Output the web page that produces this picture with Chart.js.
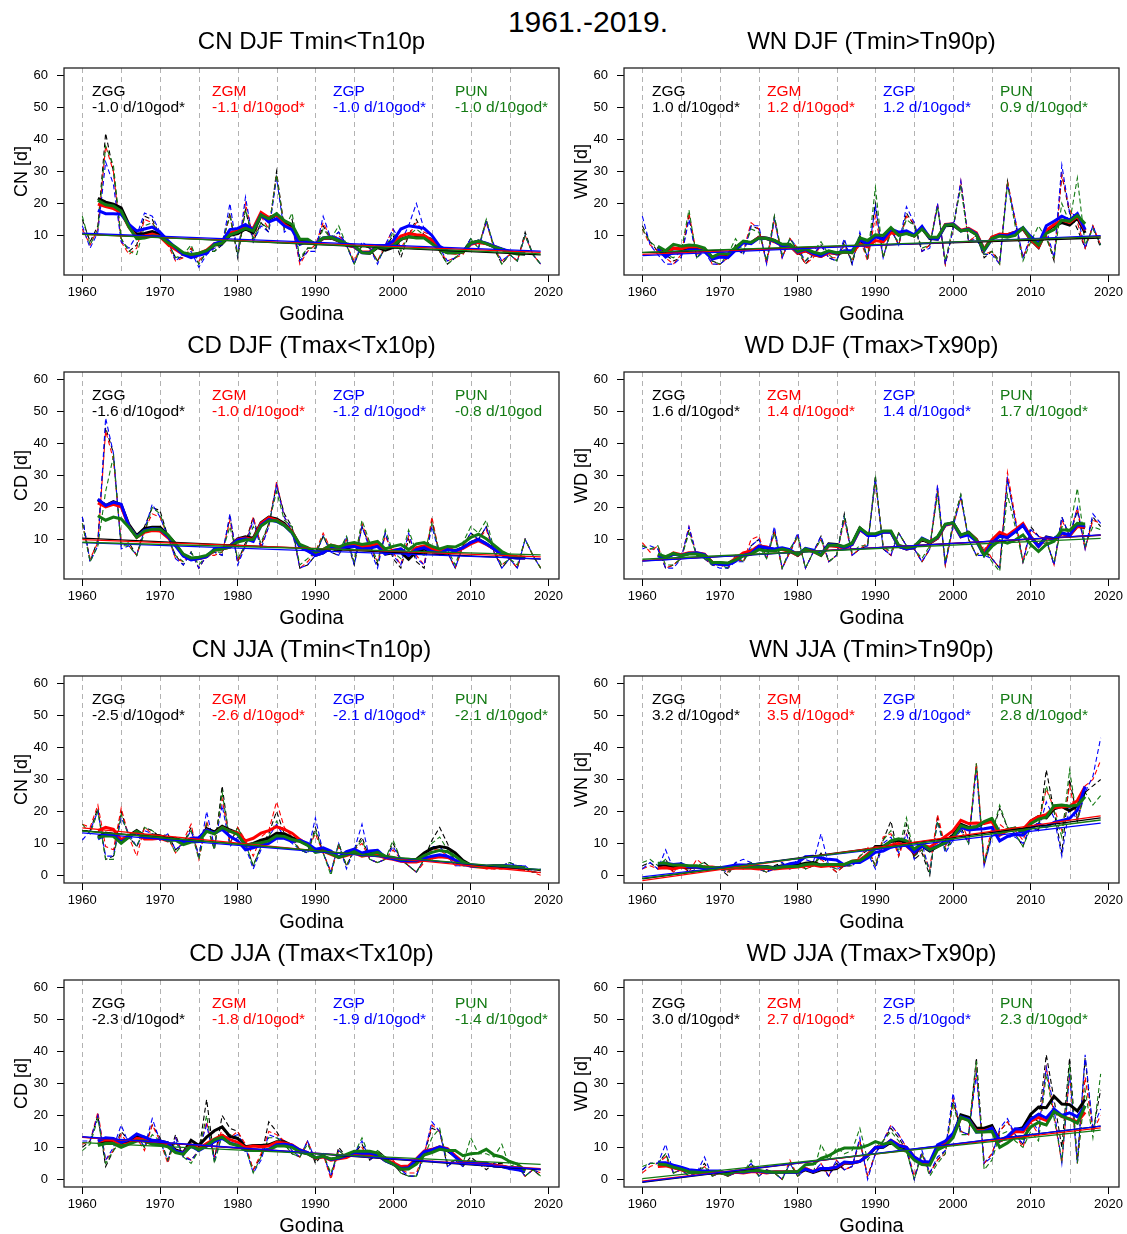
<!DOCTYPE html>
<html>
<head>
<meta charset="utf-8">
<script src="https://cdn.jsdelivr.net/npm/chart.js@4.4.1/dist/chart.umd.min.js"></script>
<style>
  html, body { margin: 0; padding: 0; background: #fff; }
  body { width: 1127px; height: 1234px; position: relative; overflow: hidden; font-family: "Liberation Sans", Arial, sans-serif; }
  #mainTitle { position: absolute; left: 388px; top: 4px; width: 400px; text-align: center; font-size: 30px; line-height: 36px; color: #000; }
  canvas { position: absolute; }
</style>
</head>
<body>
<div id="mainTitle">1961.-2019.</div>
<canvas id="p0" width="563" height="304" style="left:0px;top:26px"></canvas>
<canvas id="p1" width="563" height="304" style="left:560px;top:26px"></canvas>
<canvas id="p2" width="563" height="304" style="left:0px;top:330px"></canvas>
<canvas id="p3" width="563" height="304" style="left:560px;top:330px"></canvas>
<canvas id="p4" width="563" height="304" style="left:0px;top:634px"></canvas>
<canvas id="p5" width="563" height="304" style="left:560px;top:634px"></canvas>
<canvas id="p6" width="563" height="304" style="left:0px;top:938px"></canvas>
<canvas id="p7" width="563" height="304" style="left:560px;top:938px"></canvas>
<script>
// years 1960-2019
const years = [1960, 1961, 1962, 1963, 1964, 1965, 1966, 1967, 1968, 1969,
  1970, 1971, 1972, 1973, 1974, 1975, 1976, 1977, 1978, 1979,
  1980, 1981, 1982, 1983, 1984, 1985, 1986, 1987, 1988, 1989,
  1990, 1991, 1992, 1993, 1994, 1995, 1996, 1997, 1998, 1999,
  2000, 2001, 2002, 2003, 2004, 2005, 2006, 2007, 2008, 2009,
  2010, 2011, 2012, 2013, 2014, 2015, 2016, 2017, 2018, 2019];
const stations = ['ZGG', 'ZGM', 'ZGP', 'PUN'];
const xTicks = [1960, 1970, 1980, 1990, 2000, 2010, 2020];
const gridYears = [1960, 1965, 1970, 1975, 1980, 1985, 1990, 1995, 2000, 2005, 2010, 2015];
const yTicksDjf = [10, 20, 30, 40, 50, 60];
const yTicksJja = [0, 10, 20, 30, 40, 50, 60];

// CN DJF
const cnDjfZGG = [15,8,13,42,30,9,5,7,16,15, 10,8,3,3,6,1,5,5,7,17, 3,18,8,14,11,30,12,15,2,6, 6,13,9,11,7,1,7,6,2,6, 10,3,10,15,10,9,5,1,3,5, 9,6,15,6,1,4,2,11,4,1];
const cnDjfZGM = [12,7,12,38,30,8,4,6,15,14, 10,7,2,3,6,2,5,6,8,16, 4,20,9,16,12,29,12,13,1,5, 7,14,9,10,7,2,7,6,2,7, 12,6,10,14,11,10,5,2,3,4, 8,7,14,6,2,4,2,10,4,1];
const cnDjfZGP = [13,6,11,33,26,8,6,10,17,16, 11,9,2,4,5,0,4,6,7,20, 4,22,8,13,11,28,11,13,2,5, 5,16,9,11,7,1,8,6,1,7, 12,8,13,20,12,10,6,2,3,5, 9,6,14,7,2,4,2,10,4,1];
const cnDjfPUN = [16,7,12,38,32,9,5,4,13,14, 10,8,3,4,7,1,5,5,8,16, 4,18,9,14,12,29,12,17,3,6, 6,12,9,13,7,1,7,6,2,6, 11,5,10,12,10,9,5,1,3,5, 9,6,15,6,1,4,2,10,4,1];
// WN DJF
const wnDjfZGG = [13,8,5,4,2,3,16,3,6,2, 1,3,7,4,13,12,2,16,3,9, 5,1,4,7,3,2,8,1,10,3, 20,3,12,7,17,13,5,7,19,1, 12,26,8,10,3,5,2,27,14,3, 9,7,10,2,29,17,12,6,13,6];
const wnDjfZGM = [12,7,5,3,1,4,17,4,6,1, 1,3,6,5,14,12,1,15,3,9, 6,1,3,7,3,3,7,2,9,2, 16,3,12,7,16,14,5,7,20,1, 12,27,8,10,4,5,1,27,15,3, 9,7,10,3,29,18,14,6,13,7];
const wnDjfZGP = [16,7,4,1,1,3,15,3,5,1, 1,3,6,4,13,13,1,15,3,9, 6,2,4,7,3,2,9,1,11,3, 19,3,12,7,19,14,5,6,20,1, 12,27,8,9,4,4,1,26,15,3, 10,8,12,3,32,17,16,6,13,7];
const wnDjfPUN = [12,8,6,4,3,5,18,3,6,2, 1,4,9,5,12,11,2,16,4,9, 5,2,5,8,4,2,7,2,9,3, 25,3,11,8,15,13,6,7,19,2, 13,25,8,9,4,5,1,26,13,2, 8,13,9,3,20,14,28,7,12,7];
// CD DJF
const cdDjfZGG = [17,3,10,45,37,8,9,5,14,20, 19,11,5,2,6,1,5,6,5,17, 3,9,17,8,15,27,18,14,1,2, 5,11,6,5,10,2,14,8,2,12, 4,1,10,3,1,16,5,6,1,8, 12,10,14,6,1,4,1,10,5,1];
const cdDjfZGM = [15,4,9,44,35,9,8,5,13,18, 17,11,4,3,6,1,5,5,6,16, 3,8,17,8,14,28,17,13,1,3, 6,12,7,6,10,3,15,8,3,11, 6,2,11,5,2,17,5,6,1,8, 11,10,13,6,2,4,1,10,5,1];
const cdDjfZGP = [17,3,8,48,37,7,8,5,13,21, 17,11,4,2,6,1,5,6,5,18, 2,8,16,7,14,27,17,13,1,2, 5,11,6,5,11,2,14,7,1,12, 5,2,12,4,2,14,5,6,1,8, 12,10,14,6,1,4,1,10,5,1];
const cdDjfPUN = [15,3,8,25,36,8,8,5,12,20, 18,11,5,3,6,2,5,6,6,14, 4,8,14,9,15,25,16,14,2,4, 6,11,7,6,11,3,16,9,3,13, 6,4,13,6,5,15,6,7,2,9, 14,12,16,7,2,4,2,10,5,1];
// WD DJF
const wdDjfZGG = [8,7,7,1,2,4,13,5,4,2, 2,1,4,3,8,10,4,13,1,6, 11,1,6,11,3,5,18,5,7,8, 30,7,5,12,8,7,3,7,25,2, 15,24,10,5,7,4,1,29,16,3, 14,11,10,2,17,11,19,7,17,14];
const wdDjfZGM = [9,6,8,1,2,4,14,5,4,2, 2,1,4,3,10,11,4,12,1,6, 11,1,6,10,3,5,16,5,7,9, 28,8,5,12,8,7,3,7,26,2, 14,23,10,5,8,4,1,31,17,3, 13,11,10,2,16,11,20,7,16,15];
const wdDjfZGP = [7,8,7,1,1,4,14,5,4,2, 1,1,3,3,8,10,4,14,1,6, 12,1,6,11,3,5,17,5,7,8, 29,7,5,12,8,7,3,7,27,2, 14,23,10,5,5,4,1,29,16,3, 13,11,10,2,17,11,20,7,18,15];
const wdDjfPUN = [8,7,8,2,2,4,12,5,4,2, 2,1,5,3,7,8,4,12,1,7, 11,1,6,10,3,5,17,6,8,8, 29,8,6,12,8,7,4,8,24,3, 15,24,10,5,7,3,0,24,14,3, 8,8,9,3,14,13,26,8,14,13];
// CN JJA
const cnJjaZGG = [14,14,21,5,6,20,12,9,15,14, 12,13,8,10,15,6,16,8,28,10, 15,10,3,9,13,20,13,11,8,7, 15,7,1,10,3,8,12,5,4,5, 10,5,3,1,5,11,15,10,4,3, 3,3,3,2,3,4,3,2,1,1];
const cnJjaZGM = [16,15,22,9,8,21,12,6,15,13, 11,12,7,11,16,5,17,9,24,10, 15,11,6,12,14,23,15,12,8,8, 13,7,1,9,3,8,10,5,4,5, 8,5,3,1,4,8,8,6,3,3, 3,3,2,2,2,3,3,2,1,0];
const cnJjaZGP = [11,14,20,6,6,18,13,9,14,13, 11,13,8,10,14,6,20,9,22,9, 12,9,2,8,12,16,12,10,8,7, 18,7,1,10,2,8,16,5,4,5, 9,5,3,1,5,9,9,6,3,3, 3,3,3,2,3,4,3,3,1,2];
const cnJjaPUN = [16,13,20,5,5,19,12,9,15,14, 12,12,7,10,14,5,16,8,26,10, 15,10,3,9,12,17,13,11,8,7, 14,7,0,10,3,8,11,5,4,5, 11,5,3,1,5,10,12,8,4,3, 3,3,3,2,3,4,3,2,1,2];
// WN JJA
const wnJjaZGG = [3,4,2,5,1,4,1,2,4,2, 2,0,4,3,4,2,1,3,4,2, 5,2,3,7,3,1,3,3,6,8, 3,11,17,6,16,5,7,0,18,8, 12,15,10,35,3,13,21,15,13,9, 16,14,33,20,7,30,18,26,28,30];
const wnJjaZGM = [2,3,2,3,1,3,1,5,3,2, 2,1,3,2,3,2,1,2,3,2, 3,2,3,5,3,1,3,3,6,9, 3,12,13,6,13,6,8,2,19,9, 14,17,11,35,4,15,16,14,14,11, 17,16,27,21,14,28,17,28,30,36];
const wnJjaZGP = [2,4,2,8,2,3,2,3,3,2, 2,1,4,5,4,2,1,2,4,2, 5,5,4,13,3,2,3,3,5,7, 2,10,12,7,13,5,10,1,17,7, 11,14,10,33,3,12,15,12,12,10, 15,14,23,18,6,22,17,26,31,43];
const wnJjaPUN = [4,5,3,5,2,4,2,3,4,2, 2,1,3,3,4,2,1,3,3,2, 4,2,3,6,3,2,3,3,6,8, 3,11,14,8,18,6,8,1,17,8, 11,14,10,35,4,13,22,15,13,9, 15,16,28,20,12,33,17,26,22,25];
// CD JJA
const cdJjaZGG = [10,12,20,4,9,15,12,14,10,17, 13,6,14,7,6,9,25,6,20,16, 15,10,3,7,18,15,11,8,7,12, 5,8,1,10,7,8,11,6,9,7, 5,2,1,1,8,16,15,4,6,4, 7,5,3,5,5,3,4,1,3,1];
const cdJjaZGM = [11,12,21,6,9,14,11,13,9,17, 12,5,13,8,6,9,18,7,16,13, 15,11,3,8,15,14,12,9,7,12, 6,8,0,9,7,8,10,6,8,7, 6,3,2,2,8,17,15,5,6,5, 6,5,4,5,4,4,4,1,3,2];
const cdJjaZGP = [12,12,20,6,10,17,11,14,10,19, 12,6,13,7,6,9,17,6,14,13, 14,10,2,6,14,13,12,9,7,12, 6,8,1,9,7,8,12,6,8,7, 5,3,1,1,8,18,15,4,6,4, 6,5,4,5,4,3,4,1,3,2];
const cdJjaPUN = [9,11,19,5,9,12,11,13,10,14, 12,6,12,7,5,9,20,5,14,14, 13,10,2,7,13,13,11,8,7,11, 6,8,2,9,7,8,13,7,9,7, 5,2,1,1,7,13,16,5,6,5, 13,8,8,7,11,4,5,1,3,1];
// WD JJA
const wdJjaZGG = [3,5,5,8,2,3,1,2,5,1, 2,1,2,2,5,1,3,2,0,5, 1,3,2,4,1,5,3,4,12,1, 8,12,16,13,9,0,8,2,6,9, 25,15,14,38,5,8,15,18,14,11, 20,18,39,25,10,38,6,38,15,28];
const wdJjaZGM = [2,4,5,7,2,3,1,2,4,1, 2,1,2,2,4,1,3,2,0,6, 1,3,2,5,1,6,3,4,12,1, 8,12,17,14,10,1,8,2,6,8, 25,15,14,34,5,8,15,18,14,10, 18,14,35,20,5,33,5,32,15,20];
const wdJjaZGP = [3,5,5,11,2,3,1,2,7,1, 2,1,2,2,5,1,3,2,0,5, 1,3,2,5,1,6,3,4,13,0, 8,12,17,14,10,0,9,2,7,9, 27,15,14,33,5,7,16,19,14,11, 19,15,35,22,5,33,5,39,16,22];
const wdJjaPUN = [4,5,5,8,2,3,1,2,4,1, 2,1,2,2,6,1,3,2,0,5, 1,4,2,11,6,10,8,9,16,6, 10,12,15,12,9,0,8,1,5,8, 24,14,14,37,3,6,14,15,12,10, 15,12,33,19,6,36,5,28,13,33];

const panelTitles = ['CN DJF Tmin<Tn10p', 'WN DJF (Tmin>Tn90p)', 'CD DJF (Tmax<Tx10p)', 'WD DJF (Tmax>Tx90p)',
  'CN JJA (Tmin<Tn10p)', 'WN JJA (Tmin>Tn90p)', 'CD JJA (Tmax<Tx10p)', 'WD JJA (Tmax>Tx90p)'];
const yLabels = ['CN [d]', 'WN [d]', 'CD [d]', 'WD [d]', 'CN [d]', 'WN [d]', 'CD [d]', 'WD [d]'];
const cnDjfTrend = ['-1.0 d/10god*', '-1.1 d/10god*', '-1.0 d/10god*', '-1.0 d/10god*'];
const wnDjfTrend = ['1.0 d/10god*', '1.2 d/10god*', '1.2 d/10god*', '0.9 d/10god*'];
const cdDjfTrend = ['-1.6 d/10god*', '-1.0 d/10god*', '-1.2 d/10god*', '-0.8 d/10god'];
const wdDjfTrend = ['1.6 d/10god*', '1.4 d/10god*', '1.4 d/10god*', '1.7 d/10god*'];
const cnJjaTrend = ['-2.5 d/10god*', '-2.6 d/10god*', '-2.1 d/10god*', '-2.1 d/10god*'];
const wnJjaTrend = ['3.2 d/10god*', '3.5 d/10god*', '2.9 d/10god*', '2.8 d/10god*'];
const cdJjaTrend = ['-2.3 d/10god*', '-1.8 d/10god*', '-1.9 d/10god*', '-1.4 d/10god*'];
const wdJjaTrend = ['3.0 d/10god*', '2.7 d/10god*', '2.5 d/10god*', '2.3 d/10god*'];

const panels = [
  { series: [cnDjfZGG, cnDjfZGM, cnDjfZGP, cnDjfPUN], trend: cnDjfTrend, yTicks: yTicksDjf },
  { series: [wnDjfZGG, wnDjfZGM, wnDjfZGP, wnDjfPUN], trend: wnDjfTrend, yTicks: yTicksDjf },
  { series: [cdDjfZGG, cdDjfZGM, cdDjfZGP, cdDjfPUN], trend: cdDjfTrend, yTicks: yTicksDjf },
  { series: [wdDjfZGG, wdDjfZGM, wdDjfZGP, wdDjfPUN], trend: wdDjfTrend, yTicks: yTicksDjf },
  { series: [cnJjaZGG, cnJjaZGM, cnJjaZGP, cnJjaPUN], trend: cnJjaTrend, yTicks: yTicksJja },
  { series: [wnJjaZGG, wnJjaZGM, wnJjaZGP, wnJjaPUN], trend: wnJjaTrend, yTicks: yTicksJja },
  { series: [cdJjaZGG, cdJjaZGM, cdJjaZGP, cdJjaPUN], trend: cdJjaTrend, yTicks: yTicksJja },
  { series: [wdJjaZGG, wdJjaZGM, wdJjaZGP, wdJjaPUN], trend: wdJjaTrend, yTicks: yTicksJja }
];

const colors = ['#000000', '#ff0000', '#0000ff', '#137a13'];
const font = '"Liberation Sans", Arial, sans-serif';
// label x positions (px inside canvas) for left / right column
const labelX = [[92, 212, 333, 455], [92, 207, 323, 440]];

function points(vals) {
  return vals.map((v, i) => ({ x: years[i], y: v }));
}

// 5-year centred running mean
function runMean(vals) {
  const out = [];
  for (let i = 2; i < vals.length - 2; i++) {
    let s = 0;
    for (let k = -2; k <= 2; k++) s += vals[i + k];
    out.push({ x: years[i], y: s / 5 });
  }
  return out;
}

function median(arr) {
  const a = arr.slice().sort((p, q) => p - q);
  const m = a.length >> 1;
  return a.length % 2 ? a[m] : (a[m - 1] + a[m]) / 2;
}

// Sen's slope trend line
function trendLine(vals) {
  const n = vals.length;
  const slopes = [];
  for (let i = 0; i < n - 1; i++) {
    for (let j = i + 1; j < n; j++) slopes.push((vals[j] - vals[i]) / (years[j] - years[i]));
  }
  const b = median(slopes);
  const a = median(vals.map((v, i) => v - b * years[i]));
  return [{ x: years[0], y: a + b * years[0] }, { x: years[n - 1], y: a + b * years[n - 1] }];
}

const decor = {
  id: 'decor',
  beforeDatasetsDraw(chart, args, opts) {
    const { ctx, chartArea: a, scales: { x } } = chart;
    ctx.save();
    ctx.strokeStyle = '#b2b2b2';
    ctx.lineWidth = 1;
    ctx.setLineDash([5, 4]);
    gridYears.forEach(yr => {
      const px = Math.round(x.getPixelForValue(yr)) + 0.5;
      ctx.beginPath();
      ctx.moveTo(px, a.top);
      ctx.lineTo(px, a.bottom);
      ctx.stroke();
    });
    ctx.restore();
  },
  afterDraw(chart, args, opts) {
    const { ctx, chartArea: a } = chart;
    ctx.save();
    ctx.strokeStyle = '#222';
    ctx.lineWidth = 1.3;
    ctx.strokeRect(a.left, a.top, a.right - a.left, a.bottom - a.top);
    ctx.fillStyle = '#000';
    ctx.textAlign = 'center';
    ctx.textBaseline = 'alphabetic';
    ctx.font = '24px ' + font;
    ctx.fillText(opts.title, (a.left + a.right) / 2, a.top - 19);
    ctx.font = '20px ' + font;
    ctx.fillText('Godina', (a.left + a.right) / 2, a.bottom + 45);
    ctx.save();
    ctx.translate(27, (a.top + a.bottom) / 2);
    ctx.rotate(-Math.PI / 2);
    ctx.font = '18px ' + font;
    ctx.fillText(opts.yLabel, 0, 0);
    ctx.restore();
    ctx.textAlign = 'left';
    ctx.font = '15.5px ' + font;
    stations.forEach((s, i) => {
      ctx.fillStyle = colors[i];
      ctx.fillText(s, opts.lx[i], a.top + 28);
      ctx.fillText(opts.trend[i], opts.lx[i], a.top + 44);
    });
    ctx.restore();
  }
};

function fixSize(prop, val) {
  return function (scale) {
    scale[prop] = val;
    scale.paddingLeft = 0; scale.paddingRight = 0;
    scale.paddingTop = 0; scale.paddingBottom = 0;
  };
}

panels.forEach((p, idx) => {
  const datasets = [];
  p.series.forEach((vals, i) => {
    datasets.push({ data: points(vals), borderColor: colors[i], borderWidth: 1.1, borderDash: [5, 3], order: 30 + (3 - i) });
  });
  p.series.forEach((vals, i) => {
    datasets.push({ data: runMean(vals), borderColor: colors[i], borderWidth: 3, order: 20 + (3 - i) });
  });
  p.series.forEach((vals, i) => {
    datasets.push({ data: trendLine(vals), borderColor: colors[i], borderWidth: 1.3, order: 10 + (3 - i) });
  });

  new Chart(document.getElementById('p' + idx), {
    type: 'line',
    data: { datasets: datasets },
    plugins: [decor],
    options: {
      responsive: false,
      animation: false,
      events: [],
      layout: { padding: { top: 42, right: 4, left: 0, bottom: 0 } },
      elements: { point: { radius: 0 }, line: { tension: 0, fill: false } },
      plugins: {
        legend: { display: false },
        tooltip: { enabled: false },
        decor: { title: panelTitles[idx], yLabel: yLabels[idx], trend: p.trend, lx: labelX[idx % 2] }
      },
      scales: {
        x: {
          type: 'linear',
          min: 1957.64,
          max: 2021.36,
          afterBuildTicks: s => { s.ticks = xTicks.map(v => ({ value: v })); },
          afterFit: fixSize('height', 55),
          grid: { drawOnChartArea: false, drawTicks: true, tickLength: 7, color: '#000' },
          border: { display: false },
          ticks: { color: '#000', font: { size: 13, family: font }, padding: 3, maxRotation: 0, autoSkip: false, callback: v => String(v) }
        },
        y: {
          type: 'linear',
          min: -2.4,
          max: 62.4,
          afterBuildTicks: s => { s.ticks = p.yTicks.map(v => ({ value: v })); },
          afterFit: fixSize('width', 64),
          grid: { drawOnChartArea: false, drawTicks: true, tickLength: 7, color: '#000' },
          border: { display: false },
          ticks: { color: '#000', font: { size: 13, family: font }, padding: 9 }
        }
      }
    }
  });
});
</script>
</body>
</html>
